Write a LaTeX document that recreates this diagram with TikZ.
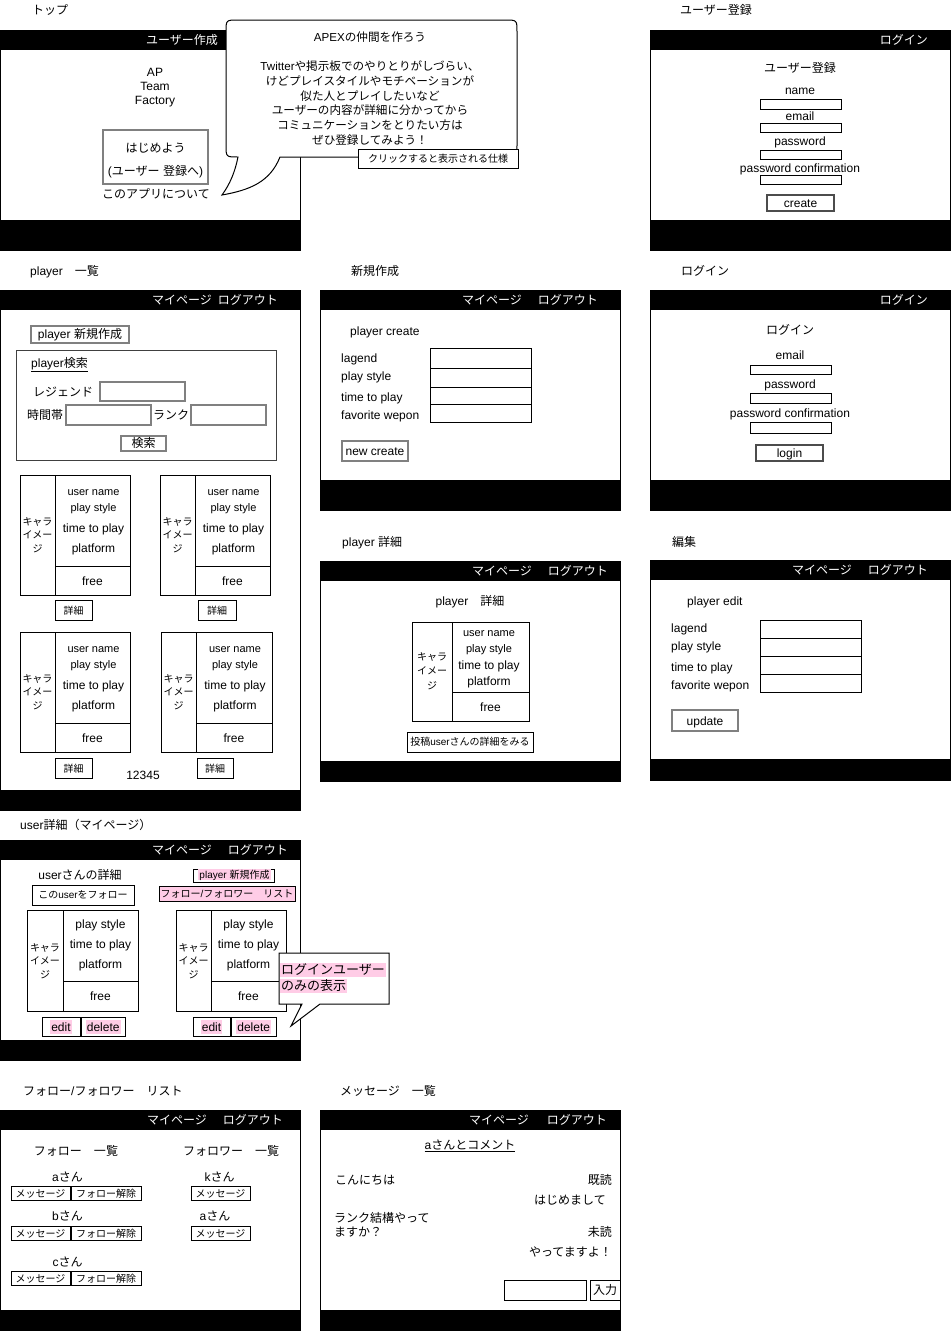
\documentclass[tikz,border=0pt]{standalone}
\usepackage{fontspec}
\setmainfont{Liberation Sans}
\newfontfamily\cjkfont{Noto Sans CJK JP}
\newcommand\latinfont{\rmfamily}
\XeTeXinterchartokenstate=1
\newXeTeXintercharclass\cjkcls
\makeatletter
\count@="3000
\loop\ifnum\count@<"3100 \XeTeXcharclass\count@=\cjkcls \advance\count@ by 1 \repeat
\count@="4E00
\loop\ifnum\count@<"A000 \XeTeXcharclass\count@=\cjkcls \advance\count@ by 1 \repeat
\count@="FF00
\loop\ifnum\count@<"FFF0 \XeTeXcharclass\count@=\cjkcls \advance\count@ by 1 \repeat
\makeatother
\XeTeXinterchartoks 0 \cjkcls = {\cjkfont}
\XeTeXinterchartoks 4095 \cjkcls = {\cjkfont}
\XeTeXinterchartoks \cjkcls 0 = {\latinfont}
\XeTeXinterchartoks \cjkcls 4095 = {\latinfont}
\definecolor{pk}{HTML}{FFCCE6}
\newcommand\fsz[1]{\fontsize{#1}{#1}\selectfont}
\newcommand\scr[5]{%
  \fill (#1,#2) rectangle (#3,#2+20);
  \fill (#1,#4-#5) rectangle (#3,#4);
  \draw[line width=1pt] (#1,#2) rectangle (#3,#4);}
\begin{document}
\begin{tikzpicture}[x=1pt,y=-1pt,
  t12/.style={inner sep=0pt,text height=8.6pt,text depth=0pt,font=\fsz{12}},
  t11/.style={inner sep=0pt,text height=7.9pt,text depth=0pt,font=\fsz{11}},
  t10/.style={inner sep=0pt,text height=7.2pt,text depth=0pt,font=\fsz{10}},
  t13/.style={inner sep=0pt,text height=9.3pt,text depth=0pt,font=\fsz{13}},
  tb/.style={inner sep=0pt,text height=8.3pt,text depth=0pt,font=\fsz{11.6}},
  bar/.style={t12,text=white},
  fld/.style={draw,line width=1pt},
  gbtn/.style={draw=black!50,line width=1.5pt},
  pinkbg/.style={fill=pk,inner xsep=1pt,inner ysep=2.5pt},
]
\useasboundingbox (0,0) rectangle (951,1331);
\fill[white] (0,0) rectangle (951,1331);

% ---------- titles
\node[t12,anchor=west] (tiTop) at (32,10) {トップ};
\node[t12,anchor=west] (tiReg) at (680,10) {ユーザー登録};
\node[t12,anchor=west] (tiList) at (30,271) {player　一覧};
\node[t12,anchor=west] (tiNew) at (351,271) {新規作成};
\node[t12,anchor=west] (tiLogin) at (681,271) {ログイン};
\node[t12,anchor=west] (tiDet) at (342,542) {player  詳細};
\node[t12,anchor=west] (tiEdit) at (672,542) {編集};
\node[t12,anchor=west] (tiUser) at (20,825) {user詳細（マイページ）};
\node[t12,anchor=west] (tiFol) at (23,1091) {フォロー/フォロワー　リスト};
\node[t12,anchor=west] (tiMsg) at (340,1091) {メッセージ　一覧};

% ---------- top
\scr{0}{30}{300}{250}{30}
\node[bar,anchor=east] (topBar) at (218,40) {ユーザー作成};
\node[t12] (ap1) at (155,72) {AP};
\node[t12] (ap2) at (155,86) {Team};
\node[t12] (ap3) at (155,100) {Factory};
\draw[gbtn] (103,130) rectangle (208,184);
\node[t12] (hj1) at (155.5,148) {はじめよう};
\node[t12] (hj2) at (155.5,171) {(ユーザー 登録へ)};
\node[t12] (about) at (156,194) {このアプリについて};
% bubble
\draw[fill=white,line width=1pt] (238,157) .. controls (226,157) .. (226,145) -- (226,32)
  .. controls (226,20) .. (238,20) -- (505,20) .. controls (517,20) .. (517,32)
  -- (517,145) .. controls (517,157) .. (505,157) -- (280,157)
  .. controls (270,182) and (250,190) .. (222,195)
  .. controls (230,184) and (235,172) .. (238,157) -- cycle;
\node[tb] (bubT) at (370,37) {APEXの仲間を作ろう};
\foreach \i/\s in {0/{Twitterや掲示板でのやりとりがしづらい、},1/{けどプレイスタイルやモチベーションが},2/{似た人とプレイしたいなど},3/{ユーザーの内容が詳細に分かってから},4/{コミュニケーションをとりたい方は},5/{ぜひ登録してみよう！}}
  \node[tb] (bub\i) at (370,66.5+14.7*\i) {\s};
\draw[fill=white,line width=0.8pt] (358,149) rectangle (518,168);
\node[t10] (spec) at (438,159) {クリックすると表示される仕様};

% ---------- user registration
\scr{650}{30}{950}{250}{30}
\node[bar,anchor=east] (regBar) at (928,40) {ログイン};
\node[t12] (regT) at (800,68) {ユーザー登録};
\node[t12] (regName) at (800,90) {name};
\draw[fld] (760,99) rectangle (841,109);
\node[t12] (regMail) at (800,116) {email};
\draw[fld] (760,123) rectangle (841,132);
\node[t12] (regPw) at (800,141) {password};
\draw[fld] (760,150) rectangle (841,159);
\node[t12] (regPwc) at (800,168) {password confirmation};
\draw[fld] (760,175) rectangle (841,184);
\draw[draw=black!70,line width=1.2pt] (767,195) rectangle (834,211);
\node[t12] (regBtn) at (800.5,203) {create};

% ---------- player list
\scr{0}{290}{300}{810}{20}
\node[bar,anchor=west] (lsMy) at (152,300) {マイページ};
\node[bar,anchor=east] (lsOut) at (278,300) {ログアウト};
\draw[gbtn] (31,326) rectangle (129,343);
\node[t12] (lsNew) at (80,334.5) {player 新規作成};
\draw[draw=black!75,line width=1pt] (16,350) rectangle (276,460);
\node[t12,anchor=west] (lsSrch) at (31,363) {\underline{player検索}};
\node[t12,anchor=west] (lsLeg) at (33,392) {レジェンド};
\draw[gbtn] (100,382) rectangle (185,401);
\node[t12,anchor=west] (lsTime) at (27,415) {時間帯};
\draw[gbtn] (66,405) rectangle (151,425);
\node[t12,anchor=west] (lsRank) at (153,415) {ランク};
\draw[gbtn] (191,405) rectangle (266,425);
\draw[gbtn] (121,436) rectangle (166,451);
\node[t12] (lsBtn) at (143.5,443.5) {検索};
\foreach \n/\xa/\xd/\xb/\ya in {1/20/55/130/475, 2/160/195/270/475, 3/20/55/130/632, 4/161/196/272/632} {
  \draw[line width=1pt] (\xa,\ya) rectangle (\xb,\ya+120);
  \draw[line width=1pt] (\xd,\ya) -- (\xd,\ya+120);
  \draw[line width=1pt] (\xd,\ya+91) -- (\xb,\ya+91);
  \node[t11] (c\n un) at ({(\xd+\xb)/2+1},\ya+16.5) {user name};
  \node[t11] (c\n ps) at ({(\xd+\xb)/2+1},\ya+33) {play style};
  \node[t12] (c\n tp) at ({(\xd+\xb)/2+1},\ya+53) {time to play};
  \node[t12] (c\n pf) at ({(\xd+\xb)/2+1},\ya+73) {platform};
  \node[t12] (c\n fr) at ({(\xd+\xb)/2},\ya+106) {free};
  \node[t10] (c\n k1) at ({(\xa+\xd)/2},\ya+46.5) {キャラ};
  \node[t10] (c\n k2) at ({(\xa+\xd)/2},\ya+59.5) {イメー};
  \node[t10] (c\n k3) at ({(\xa+\xd)/2},\ya+74) {ジ};
}
\foreach \n/\xa/\xb/\ya in {1/55/92/600, 2/198/236/600, 3/55/92/758, 4/197/233/758} {
  \draw[line width=1pt] (\xa,\ya) rectangle (\xb,\ya+20.5);
  \node[t10] (d\n) at ({(\xa+\xb)/2},\ya+10.5) {詳細};
}
\node[t12] (pager) at (143,775) {12345};

% ---------- new create
\scr{320}{290}{620}{510}{30}
\node[bar,anchor=west] (ncMy) at (462,300) {マイページ};
\node[bar,anchor=east] (ncOut) at (598,300) {ログアウト};
\node[t12,anchor=west] (ncT) at (350,331) {player create};
\node[t12,anchor=west] (ncL1) at (341,358) {lagend};
\node[t12,anchor=west] (ncL2) at (341,376) {play style};
\node[t12,anchor=west] (ncL3) at (341,397) {time to play};
\node[t12,anchor=west] (ncL4) at (341,415) {favorite wepon};
\foreach \ya/\yb in {348/368, 368/387, 387/404, 404/422}
  \draw[fld] (430,\ya) rectangle (531,\yb);
\draw[gbtn] (342,441) rectangle (408,461);
\node[t12] (ncBtn) at (375,451) {new create};

% ---------- login
\scr{650}{290}{950}{510}{30}
\node[bar,anchor=east] (lgBar) at (928,300) {ログイン};
\node[t12] (lgT) at (790,330) {ログイン};
\node[t12] (lgMail) at (790,355) {email};
\draw[fld] (750,365) rectangle (831,374);
\node[t12] (lgPw) at (790,384) {password};
\draw[fld] (750,393) rectangle (831,403);
\node[t12] (lgPwc) at (790,413) {password confirmation};
\draw[fld] (750,422) rectangle (831,433);
\draw[draw=black!70,line width=1.2pt] (756,445) rectangle (823,461);
\node[t12] (lgBtn) at (789.5,453) {login};

% ---------- player detail
\scr{320}{561}{620}{781}{20}
\node[bar,anchor=west] (pdMy) at (472,571) {マイページ};
\node[bar,anchor=east] (pdOut) at (608,571) {ログアウト};
\node[t12] (pdT) at (470,601) {player　詳細};
\draw[line width=1pt] (412,622) rectangle (529,721);
\draw[line width=1pt] (452,622) -- (452,721);
\draw[line width=1pt] (452,692) -- (529,692);
\node[t11] (pdUn) at (489,632.5) {user name};
\node[t11] (pdPs) at (489,648.5) {play style};
\node[t12] (pdTp) at (489,665) {time to play};
\node[t12] (pdPf) at (489,681) {platform};
\node[t12] (pdFr) at (490.5,707) {free};
\node[t10] (pdK1) at (432,657) {キャラ};
\node[t10] (pdK2) at (432,671) {イメー};
\node[t10] (pdK3) at (432,686) {ジ};
\draw[line width=1pt] (407,732) rectangle (533,752);
\node[t10] (pdBtn) at (470,742) {投稿userさんの詳細をみる};

% ---------- edit
\scr{650}{560}{950}{780}{21}
\node[bar,anchor=west] (edMy) at (792,570) {マイページ};
\node[bar,anchor=east] (edOut) at (928,570) {ログアウト};
\node[t12,anchor=west] (edT) at (687,601) {player edit};
\node[t12,anchor=west] (edL1) at (671,628) {lagend};
\node[t12,anchor=west] (edL2) at (671,646) {play style};
\node[t12,anchor=west] (edL3) at (671,667) {time to play};
\node[t12,anchor=west] (edL4) at (671,685) {favorite wepon};
\foreach \ya/\yb in {620/638, 638/656, 656/674, 674/692}
  \draw[fld] (760,\ya) rectangle (861,\yb);
\draw[gbtn] (672,710) rectangle (738,731);
\node[t12] (edBtn) at (705,721) {update};

% ---------- user detail
\scr{0}{840}{300}{1060}{20}
\node[bar,anchor=west] (udMy) at (152,850) {マイページ};
\node[bar,anchor=east] (udOut) at (288,850) {ログアウト};
\node[t12] (udT) at (80,875) {userさんの詳細};
\draw[line width=1pt] (32,885) rectangle (134,905);
\node[t10] (udFol) at (83,895) {このuserをフォロー};
\draw[line width=1pt] (193,869) rectangle (274,882);
\node[t10,fill=pk,inner xsep=1pt,inner ysep=1.8pt] (udNew) at (234.5,874.5) {player 新規作成};
\draw[line width=1pt,fill=pk] (159,886) rectangle (295,901);
\node[t10] (udList) at (227,893.5) {フォロー/フォロワー　リスト};
\foreach \n/\xa/\xd/\xb in {L/27/63/138, R/176/211/286} {
  \draw[line width=1pt] (\xa,910) rectangle (\xb,1011);
  \draw[line width=1pt] (\xd,910) -- (\xd,1011);
  \draw[line width=1pt] (\xd,981) -- (\xb,981);
  \node[t12] (u\n ps) at ({(\xd+\xb)/2},924) {play style};
  \node[t12] (u\n tp) at ({(\xd+\xb)/2},944) {time to play};
  \node[t12] (u\n pf) at ({(\xd+\xb)/2},964) {platform};
  \node[t12] (u\n fr) at ({(\xd+\xb)/2},996) {free};
  \node[t10] (u\n k1) at ({(\xa+\xd)/2},947.5) {キャラ};
  \node[t10] (u\n k2) at ({(\xa+\xd)/2},960.5) {イメー};
  \node[t10] (u\n k3) at ({(\xa+\xd)/2},974.5) {ジ};
}
\foreach \n/\xa/\xm/\xb in {L/42/80/125, R/193/230/276} {
  \draw[line width=1pt] (\xa,1017) rectangle (\xm,1036);
  \draw[line width=1pt] (\xm+1.5,1017) rectangle (\xb,1036);
  \node[t12,pinkbg] (u\n ed) at ({(\xa+\xm)/2},1027) {edit};
  \node[t12,pinkbg] (u\n de) at ({(\xm+1.5+\xb)/2},1027) {delete};
}
\draw[fill=white,line width=1pt] (279,953) -- (389,953) -- (389,1004) -- (320,1004)
  -- (291,1026) -- (302,1004) -- (279,1004) -- cycle;
\node[t13,pinkbg,anchor=west] (udNote1) at (280,970) {ログインユーザー};
\node[t13,pinkbg,anchor=west] (udNote2) at (280,986) {のみの表示};

% ---------- follow list
\scr{0}{1110}{300}{1330}{20}
\node[bar,anchor=west] (flMy) at (147,1120) {マイページ};
\node[bar,anchor=east] (flOut) at (283,1120) {ログアウト};
\node[t12] (flT1) at (76,1151) {フォロー　一覧};
\node[t12] (flT2) at (231,1151) {フォロワー　一覧};
\foreach \n/\nm/\yt/\yb in {a/aさん/1177/1186, b/bさん/1216/1226, c/cさん/1262/1271} {
  \node[t12] (fl\n) at (67.5,\yt) {\nm};
  \draw[line width=1pt] (11,\yb) rectangle (70,\yb+14);
  \draw[line width=1pt] (71,\yb) rectangle (141,\yb+14);
  \node[t10] (fl\n m) at (40.5,\yb+7.5) {メッセージ};
  \node[t10] (fl\n u) at (106,\yb+7.5) {フォロー解除};
}
\foreach \n/\nm/\xc/\yt/\yb in {k/kさん/219.5/1177/1186, a/aさん/215/1216/1226} {
  \node[t12] (fr\n) at (\xc,\yt) {\nm};
  \draw[line width=1pt] (191,\yb) rectangle (250,\yb+14);
  \node[t10] (fr\n m) at (220.5,\yb+7.5) {メッセージ};
}

% ---------- messages
\scr{320}{1110}{620}{1330}{20}
\node[bar,anchor=west] (msMy) at (469,1120) {マイページ};
\node[bar,anchor=east] (msOut) at (607,1120) {ログアウト};
\node[t12] (msT) at (470,1145) {\underline{aさんとコメント}};
\node[t12,anchor=west] (ms1) at (335,1180) {こんにちは};
\node[t12,anchor=east] (msR1) at (612,1180) {既読};
\node[t12,anchor=east] (ms2) at (606,1200) {はじめまして};
\node[t12,anchor=west] (ms3a) at (334,1218) {ランク結構やって};
\node[t12,anchor=west] (ms3b) at (334,1232) {ますか？};
\node[t12,anchor=east] (msR2) at (612,1232) {未読};
\node[t12,anchor=east] (ms4) at (612,1252) {やってますよ！};
\draw[line width=1pt] (504,1280) rectangle (586,1300);
\draw[line width=1pt] (590,1280) rectangle (620,1300);
\node[t12] (msIn) at (605,1290) {入力};
\end{tikzpicture}
\end{document}
